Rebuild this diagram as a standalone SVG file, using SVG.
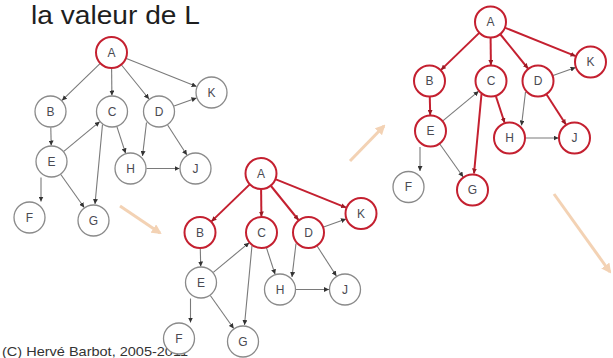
<svg xmlns="http://www.w3.org/2000/svg" width="613" height="358" viewBox="0 0 613 358">
  <style>
    .n { fill: #ffffff; stroke: #8a8a8a; stroke-width: 1.3; }
    .n.r { stroke: #c42030; stroke-width: 2; }
    .lbl { font-family: "Liberation Sans", Arial, sans-serif; font-size: 12px; fill: #4a4a52; text-anchor: middle; }
    .e { stroke: #7a7a7a; stroke-width: 1.1; fill: none; marker-end: url(#dot); }
    .e.r { stroke: #c42030; stroke-width: 2; marker-end: url(#dotRed); }
    .step { stroke: #f3d2b4; stroke-width: 3; fill: none; marker-end: url(#stepHead); }
    .title { font-family: "Liberation Sans", Arial, sans-serif; font-size: 25.5px; fill: #1e1e1e; }
    .copy { font-family: "Liberation Sans", Arial, sans-serif; font-size: 13px; fill: #333333; }
  </style>
  <defs>
    <marker id="dot" viewBox="0 0 6 6" refX="6" refY="3" markerWidth="5" markerHeight="5" markerUnits="userSpaceOnUse" orient="auto">
      <path d="M0,0 L6,3 L0,6 z" fill="#333333"/>
    </marker>
    <marker id="dotRed" viewBox="0 0 6 6" refX="6" refY="3" markerWidth="5" markerHeight="5" markerUnits="userSpaceOnUse" orient="auto">
      <path d="M0,0 L6,3 L0,6 z" fill="#9a1a24"/>
    </marker>
    <marker id="stepHead" viewBox="0 0 10 10" refX="8" refY="5" markerWidth="10" markerHeight="10" markerUnits="userSpaceOnUse" orient="auto">
      <path d="M0,0 L10,5 L0,10 z" fill="#f3d2b4"/>
    </marker>
  </defs>

  <rect width="613" height="358" fill="#ffffff"/>

  <text class="title" x="31" y="23.5" textLength="169" lengthAdjust="spacingAndGlyphs">la valeur de L</text>
  <text class="copy" x="2" y="356" textLength="186" lengthAdjust="spacingAndGlyphs">(C) Hervé Barbot, 2005-2011</text>

  <!-- progression arrows between the three stages -->
  <g id="steps">
    <line class="step" x1="120" y1="206" x2="160" y2="233"/>
    <line class="step" x1="350" y1="161" x2="384" y2="126"/>
    <line class="step" x1="554" y1="194" x2="610" y2="272"/>
  </g>

  <!-- stage 1: only A marked -->
  <g id="graph1" transform="translate(111.5,52.5)">
    <g id="g1-connectors">
      <line class="e" x1="-11.5" y1="11.1" x2="-49.5" y2="47.9"/>
      <line class="e" x1="0.1" y1="16" x2="0.4" y2="43"/>
      <line class="e" x1="10" y1="12.5" x2="37.5" y2="46.5"/>
      <line class="e" x1="14.9" y1="5.9" x2="85.1" y2="34.1"/>
      <line class="e" x1="-60.7" y1="75" x2="-60.3" y2="93"/>
      <line class="e" x1="-47.7" y1="98.8" x2="-11.8" y2="69.2"/>
      <line class="e" x1="5.4" y1="74.2" x2="14.1" y2="100.8"/>
      <line class="e" x1="-9" y1="72" x2="-16.5" y2="151.5"/>
      <line class="e" x1="35" y1="70" x2="31" y2="103.5"/>
      <line class="e" x1="56.1" y1="72.5" x2="75.4" y2="102.5"/>
      <line class="e" x1="62.6" y1="53.6" x2="85" y2="45.5"/>
      <line class="e" x1="35" y1="116" x2="68" y2="116"/>
      <line class="e" x1="-70.5" y1="125" x2="-70.5" y2="149"/>
      <line class="e" x1="-50.7" y1="122" x2="-27.3" y2="155"/>
    </g>
    <g id="g1-A"><circle class="n r" cx="0" cy="0" r="15.5"/><text class="lbl" x="0" y="4">A</text></g>
    <g id="g1-B"><circle class="n" cx="-61" cy="59" r="15.5"/><text class="lbl" x="-61" y="63">B</text></g>
    <g id="g1-C"><circle class="n" cx="0.5" cy="59" r="15.5"/><text class="lbl" x="0.5" y="63">C</text></g>
    <g id="g1-D"><circle class="n" cx="47.5" cy="59" r="15.5"/><text class="lbl" x="47.5" y="63">D</text></g>
    <g id="g1-K"><circle class="n" cx="100" cy="40" r="15.5"/><text class="lbl" x="100" y="44">K</text></g>
    <g id="g1-E"><circle class="n" cx="-60" cy="109" r="15.5"/><text class="lbl" x="-60" y="113">E</text></g>
    <g id="g1-H"><circle class="n" cx="19" cy="116" r="15.5"/><text class="lbl" x="19" y="120">H</text></g>
    <g id="g1-J"><circle class="n" cx="84" cy="116" r="15.5"/><text class="lbl" x="84" y="120">J</text></g>
    <g id="g1-F"><circle class="n" cx="-82" cy="165" r="15.5"/><text class="lbl" x="-82" y="169">F</text></g>
    <g id="g1-G"><circle class="n" cx="-18" cy="168" r="15.5"/><text class="lbl" x="-18" y="172">G</text></g>
  </g>

  <!-- stage 2: A and its direct successors -->
  <g id="graph2" transform="translate(261,173.5)">
    <g id="g2-connectors">
      <line class="e r" x1="-11.5" y1="11.1" x2="-49.5" y2="47.9"/>
      <line class="e r" x1="0.1" y1="16" x2="0.4" y2="43"/>
      <line class="e r" x1="10" y1="12.5" x2="37.5" y2="46.5"/>
      <line class="e r" x1="14.9" y1="5.9" x2="85.1" y2="34.1"/>
      <line class="e" x1="-60.7" y1="75" x2="-60.3" y2="93"/>
      <line class="e" x1="-47.7" y1="98.8" x2="-11.8" y2="69.2"/>
      <line class="e" x1="5.4" y1="74.2" x2="14.1" y2="100.8"/>
      <line class="e" x1="-9" y1="72" x2="-16.5" y2="151.5"/>
      <line class="e" x1="35" y1="70" x2="31" y2="103.5"/>
      <line class="e" x1="56.1" y1="72.5" x2="75.4" y2="102.5"/>
      <line class="e" x1="62.6" y1="53.6" x2="85" y2="45.5"/>
      <line class="e" x1="35" y1="116" x2="68" y2="116"/>
      <line class="e" x1="-70.5" y1="125" x2="-70.5" y2="149"/>
      <line class="e" x1="-50.7" y1="122" x2="-27.3" y2="155"/>
    </g>
    <g id="g2-A"><circle class="n r" cx="0" cy="0" r="15.5"/><text class="lbl" x="0" y="4">A</text></g>
    <g id="g2-B"><circle class="n r" cx="-61" cy="59" r="15.5"/><text class="lbl" x="-61" y="63">B</text></g>
    <g id="g2-C"><circle class="n r" cx="0.5" cy="59" r="15.5"/><text class="lbl" x="0.5" y="63">C</text></g>
    <g id="g2-D"><circle class="n r" cx="47.5" cy="59" r="15.5"/><text class="lbl" x="47.5" y="63">D</text></g>
    <g id="g2-K"><circle class="n r" cx="100" cy="40" r="15.5"/><text class="lbl" x="100" y="44">K</text></g>
    <g id="g2-E"><circle class="n" cx="-60" cy="109" r="15.5"/><text class="lbl" x="-60" y="113">E</text></g>
    <g id="g2-H"><circle class="n" cx="19" cy="116" r="15.5"/><text class="lbl" x="19" y="120">H</text></g>
    <g id="g2-J"><circle class="n" cx="84" cy="116" r="15.5"/><text class="lbl" x="84" y="120">J</text></g>
    <g id="g2-F"><circle class="n" cx="-82" cy="165" r="15.5"/><text class="lbl" x="-82" y="169">F</text></g>
    <g id="g2-G"><circle class="n" cx="-18" cy="168" r="15.5"/><text class="lbl" x="-18" y="172">G</text></g>
  </g>

  <!-- stage 3: second level reached -->
  <g id="graph3" transform="translate(490.5,22)">
    <g id="g3-connectors">
      <line class="e r" x1="-11.5" y1="11.1" x2="-49.5" y2="47.9"/>
      <line class="e r" x1="0.1" y1="16" x2="0.4" y2="43"/>
      <line class="e r" x1="10" y1="12.5" x2="37.5" y2="46.5"/>
      <line class="e r" x1="14.9" y1="5.9" x2="85.1" y2="34.1"/>
      <line class="e r" x1="-60.7" y1="75" x2="-60.3" y2="93"/>
      <line class="e" x1="-47.7" y1="98.8" x2="-11.8" y2="69.2"/>
      <line class="e r" x1="5.4" y1="74.2" x2="14.1" y2="100.8"/>
      <line class="e r" x1="-9" y1="72" x2="-16.5" y2="151.5"/>
      <line class="e" x1="35" y1="70" x2="31" y2="103.5"/>
      <line class="e r" x1="56.1" y1="72.5" x2="75.4" y2="102.5"/>
      <line class="e" x1="62.6" y1="53.6" x2="85" y2="45.5"/>
      <line class="e" x1="35" y1="116" x2="68" y2="116"/>
      <line class="e" x1="-70.5" y1="125" x2="-70.5" y2="149"/>
      <line class="e" x1="-50.7" y1="122" x2="-27.3" y2="155"/>
    </g>
    <g id="g3-A"><circle class="n r" cx="0" cy="0" r="15.5"/><text class="lbl" x="0" y="4">A</text></g>
    <g id="g3-B"><circle class="n r" cx="-61" cy="59" r="15.5"/><text class="lbl" x="-61" y="63">B</text></g>
    <g id="g3-C"><circle class="n r" cx="0.5" cy="59" r="15.5"/><text class="lbl" x="0.5" y="63">C</text></g>
    <g id="g3-D"><circle class="n r" cx="47.5" cy="59" r="15.5"/><text class="lbl" x="47.5" y="63">D</text></g>
    <g id="g3-K"><circle class="n r" cx="100" cy="40" r="15.5"/><text class="lbl" x="100" y="44">K</text></g>
    <g id="g3-E"><circle class="n r" cx="-60" cy="109" r="15.5"/><text class="lbl" x="-60" y="113">E</text></g>
    <g id="g3-H"><circle class="n r" cx="19" cy="116" r="15.5"/><text class="lbl" x="19" y="120">H</text></g>
    <g id="g3-J"><circle class="n r" cx="84" cy="116" r="15.5"/><text class="lbl" x="84" y="120">J</text></g>
    <g id="g3-F"><circle class="n" cx="-82" cy="165" r="15.5"/><text class="lbl" x="-82" y="169">F</text></g>
    <g id="g3-G"><circle class="n r" cx="-18" cy="168" r="15.5"/><text class="lbl" x="-18" y="172">G</text></g>
  </g>
</svg>
